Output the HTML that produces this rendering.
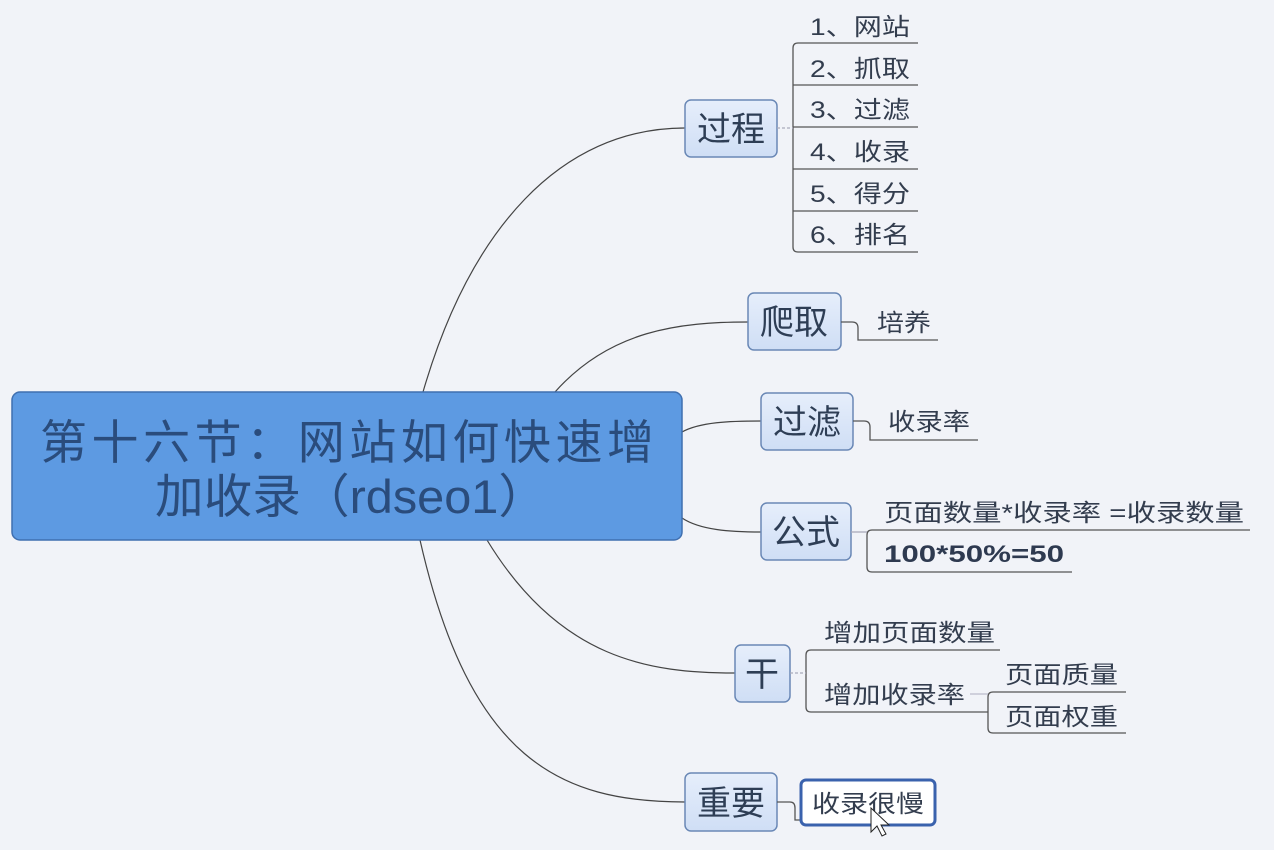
<!DOCTYPE html>
<html><head><meta charset="utf-8"><style>
html,body{margin:0;padding:0;background:#f1f3f8;}
svg{display:block;font-family:"Liberation Sans","Noto Sans CJK SC",sans-serif;}
</style></head><body>
<svg width="1274" height="850" viewBox="0 0 1274 850" xmlns="http://www.w3.org/2000/svg">
<defs>
<linearGradient id="g" x1="0" y1="0" x2="0" y2="1"><stop offset="0" stop-color="#e6eefb"/><stop offset="1" stop-color="#cfdef5"/></linearGradient>
</defs>
<rect width="1274" height="850" fill="#f1f3f8"/>
<g fill="none" stroke="#444" stroke-width="1.2">
<path d="M423,392 C470,230 560,128 685,128"/>
<path d="M555,392 C610,330 680,322 748,322"/>
<path d="M682,432 C700,422 730,421 761,421"/>
<path d="M682,518 C700,530 730,532 761,532"/>
<path d="M487,540 C560,660 650,673 735,673"/>
<path d="M420,540 C470,760 560,802 685,802"/>
</g>
<rect x="12" y="392" width="670" height="148" rx="8" fill="#5d9ae2" stroke="#3f6fb0" stroke-width="1.5"/>
<text x="40" y="459" font-size="47" fill="#2a4c7c" textLength="614" lengthAdjust="spacing">第十六节：网站如何快速增</text>
<text x="155" y="513" font-size="47" fill="#2a4c7c" textLength="392" lengthAdjust="spacingAndGlyphs">加收录（rdseo1）</text>
<g fill="url(#g)" stroke="#6a88b6" stroke-width="1.5">
<rect x="685" y="100" width="92" height="57" rx="6"/>
<rect x="748" y="293" width="93" height="57" rx="6"/>
<rect x="761" y="393" width="92" height="57" rx="6"/>
<rect x="761" y="503" width="90" height="57" rx="6"/>
<rect x="735" y="645" width="55" height="57" rx="6"/>
<rect x="685" y="773" width="92" height="58" rx="6"/>
</g>
<g font-size="34" fill="#2e3e55" text-anchor="middle">
<text x="731" y="141">过程</text>
<text x="794" y="334">爬取</text>
<text x="807" y="434">过滤</text>
<text x="806" y="544">公式</text>
<text x="762" y="686">干</text>
<text x="731" y="815">重要</text>
</g>
<g fill="none" stroke="#555" stroke-width="1.3">
<path d="M918,43 H798 Q793,43 793,48 V247 Q793,252 798,252 H918"/>
<path d="M793,85 H918 M793,127 H918 M793,169 H918 M793,211 H918"/>
<path d="M777,128 H793" stroke="#aab" stroke-dasharray="3,2"/>
<path d="M841,322 H852 Q858,322 858,328 V340 H938"/>
<path d="M853,421 H864 Q870,421 870,427 V440 H978"/>
<path d="M1250,530 H872 Q867,530 867,535 V567 Q867,572 872,572 H1072"/>
<path d="M851,532 H867" stroke="#aab"/>
<path d="M1000,650 H811 Q806,650 806,655 V707 Q806,712 811,712 H988"/>
<path d="M790,673 H806" stroke="#aab" stroke-dasharray="3,2"/>
<path d="M1126,692 H993 Q988,692 988,697 V728 Q988,733 993,733 H1126"/>
<path d="M970,694 H988" stroke="#bbc"/>
<path d="M777,802 H790 Q795,802 795,808 V820 H800"/>
</g>
<rect x="801" y="780" width="134" height="45" rx="5" fill="#fff" stroke="#3a62ad" stroke-width="3"/>
<g font-size="24" fill="#333d4e" lengthAdjust="spacingAndGlyphs">
<text x="810" y="35" textLength="100" lengthAdjust="spacingAndGlyphs">1、网站</text>
<text x="810" y="77" textLength="100" lengthAdjust="spacingAndGlyphs">2、抓取</text>
<text x="810" y="118" textLength="100" lengthAdjust="spacingAndGlyphs">3、过滤</text>
<text x="810" y="160" textLength="100" lengthAdjust="spacingAndGlyphs">4、收录</text>
<text x="810" y="202" textLength="100" lengthAdjust="spacingAndGlyphs">5、得分</text>
<text x="810" y="243" textLength="100" lengthAdjust="spacingAndGlyphs">6、排名</text>
<text x="877" y="331" textLength="54" lengthAdjust="spacingAndGlyphs">培养</text>
<text x="888" y="430" textLength="82" lengthAdjust="spacingAndGlyphs">收录率</text>
<text x="884" y="521" textLength="360" lengthAdjust="spacingAndGlyphs">页面数量*收录率 =收录数量</text>
<text x="884" y="562" font-weight="bold" fill="#2e3a50" textLength="180" lengthAdjust="spacingAndGlyphs">100*50%=50</text>
<text x="824" y="641" textLength="171" lengthAdjust="spacingAndGlyphs">增加页面数量</text>
<text x="824" y="703" textLength="141" lengthAdjust="spacingAndGlyphs">增加收录率</text>
<text x="1005" y="683" textLength="113" lengthAdjust="spacingAndGlyphs">页面质量</text>
<text x="1005" y="725" textLength="113" lengthAdjust="spacingAndGlyphs">页面权重</text>
<text x="812" y="812" textLength="112" lengthAdjust="spacingAndGlyphs">收录很慢</text>
</g>
<path d="M871,808 L871,832 L877,826 L882,836 L886,834 L881,825 L889,825 Z" fill="#fff" stroke="#222" stroke-width="1"/>
</svg>
</body></html>
